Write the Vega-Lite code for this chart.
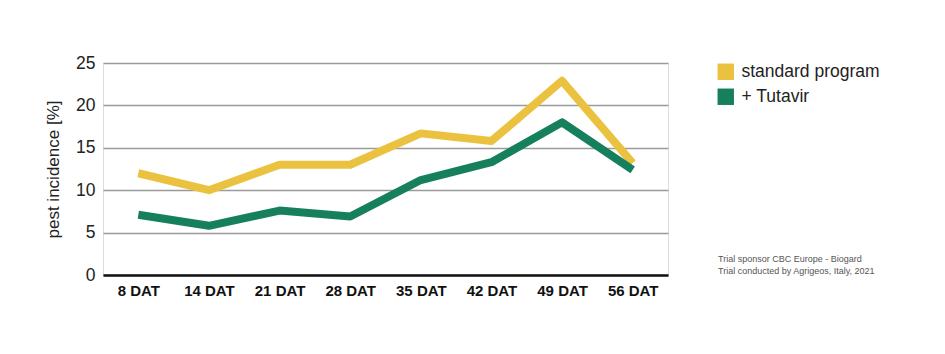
{
  "$schema": "https://vega.github.io/schema/vega-lite/v6.json",
  "width": 565,
  "height": 212,
  "autosize": "none",
  "padding": {"left": 103, "top": 63, "right": 277, "bottom": 79},
  "background": "white",
  "title": {
    "text": ["Trial sponsor CBC Europe - Biogard", "Trial conducted by Agrigeos, Italy, 2021"],
    "orient": "bottom",
    "anchor": "start",
    "frame": "group",
    "dx": 615,
    "dy": -47,
    "fontSize": 9,
    "fontWeight": "normal",
    "color": "#555555",
    "font": "Liberation Sans",
    "lineHeight": 12
  },
  "data": {
    "values": [
      {"day": "8 DAT", "series": "standard program", "value": 12.0},
      {"day": "14 DAT", "series": "standard program", "value": 10.0},
      {"day": "21 DAT", "series": "standard program", "value": 13.0},
      {"day": "28 DAT", "series": "standard program", "value": 13.0},
      {"day": "35 DAT", "series": "standard program", "value": 16.7},
      {"day": "42 DAT", "series": "standard program", "value": 15.8},
      {"day": "49 DAT", "series": "standard program", "value": 22.9},
      {"day": "56 DAT", "series": "standard program", "value": 13.2},
      {"day": "8 DAT", "series": "+ Tutavir", "value": 7.1},
      {"day": "14 DAT", "series": "+ Tutavir", "value": 5.8},
      {"day": "21 DAT", "series": "+ Tutavir", "value": 7.6},
      {"day": "28 DAT", "series": "+ Tutavir", "value": 6.9},
      {"day": "35 DAT", "series": "+ Tutavir", "value": 11.2},
      {"day": "42 DAT", "series": "+ Tutavir", "value": 13.3},
      {"day": "49 DAT", "series": "+ Tutavir", "value": 18.0},
      {"day": "56 DAT", "series": "+ Tutavir", "value": 12.4}
    ]
  },
  "mark": {"type": "line", "strokeWidth": 8, "strokeJoin": "round", "strokeCap": "butt"},
  "encoding": {
    "x": {
      "field": "day",
      "type": "ordinal",
      "sort": null,
      "scale": {"type": "point", "padding": 0.5},
      "axis": {
        "title": null,
        "labelAngle": 0,
        "labelFontSize": 15,
        "labelFont": "Liberation Sans",
        "labelFontWeight": "bold",
        "labelColor": "#111111",
        "ticks": false,
        "domainColor": "#111111",
        "domainWidth": 2.5,
        "labelPadding": 8,
        "grid": false
      }
    },
    "y": {
      "field": "value",
      "type": "quantitative",
      "scale": {"domain": [0, 25]},
      "axis": {
        "title": "pest incidence [%]",
        "titleFontSize": 17,
        "titleFont": "Liberation Sans",
        "titleFontWeight": "normal",
        "titleColor": "#222222",
        "titlePadding": 13,
        "values": [0, 5, 10, 15, 20, 25],
        "labelFontSize": 17.5,
        "labelFont": "Liberation Sans",
        "labelColor": "#222222",
        "labelPadding": 8,
        "ticks": false,
        "domain": false,
        "grid": true,
        "gridColor": "#9a9a9a",
        "gridWidth": 1.5
      }
    },
    "color": {
      "field": "series",
      "type": "nominal",
      "scale": {"domain": ["standard program", "+ Tutavir"], "range": ["#EBC23F", "#16805E"]},
      "legend": {
        "title": null,
        "orient": "none",
        "legendX": 614,
        "legendY": 0,
        "symbolType": "square",
        "symbolSize": 270,
        "symbolStrokeWidth": 0,
        "labelFontSize": 17.5,
        "labelFont": "Liberation Sans",
        "labelColor": "#222222",
        "labelOffset": 7,
        "rowPadding": 6,
        "encode": {
          "symbols": {"update": {"fill": {"scale": "color", "field": "value"}, "strokeWidth": {"value": 0}}}
        }
      }
    }
  }
}
